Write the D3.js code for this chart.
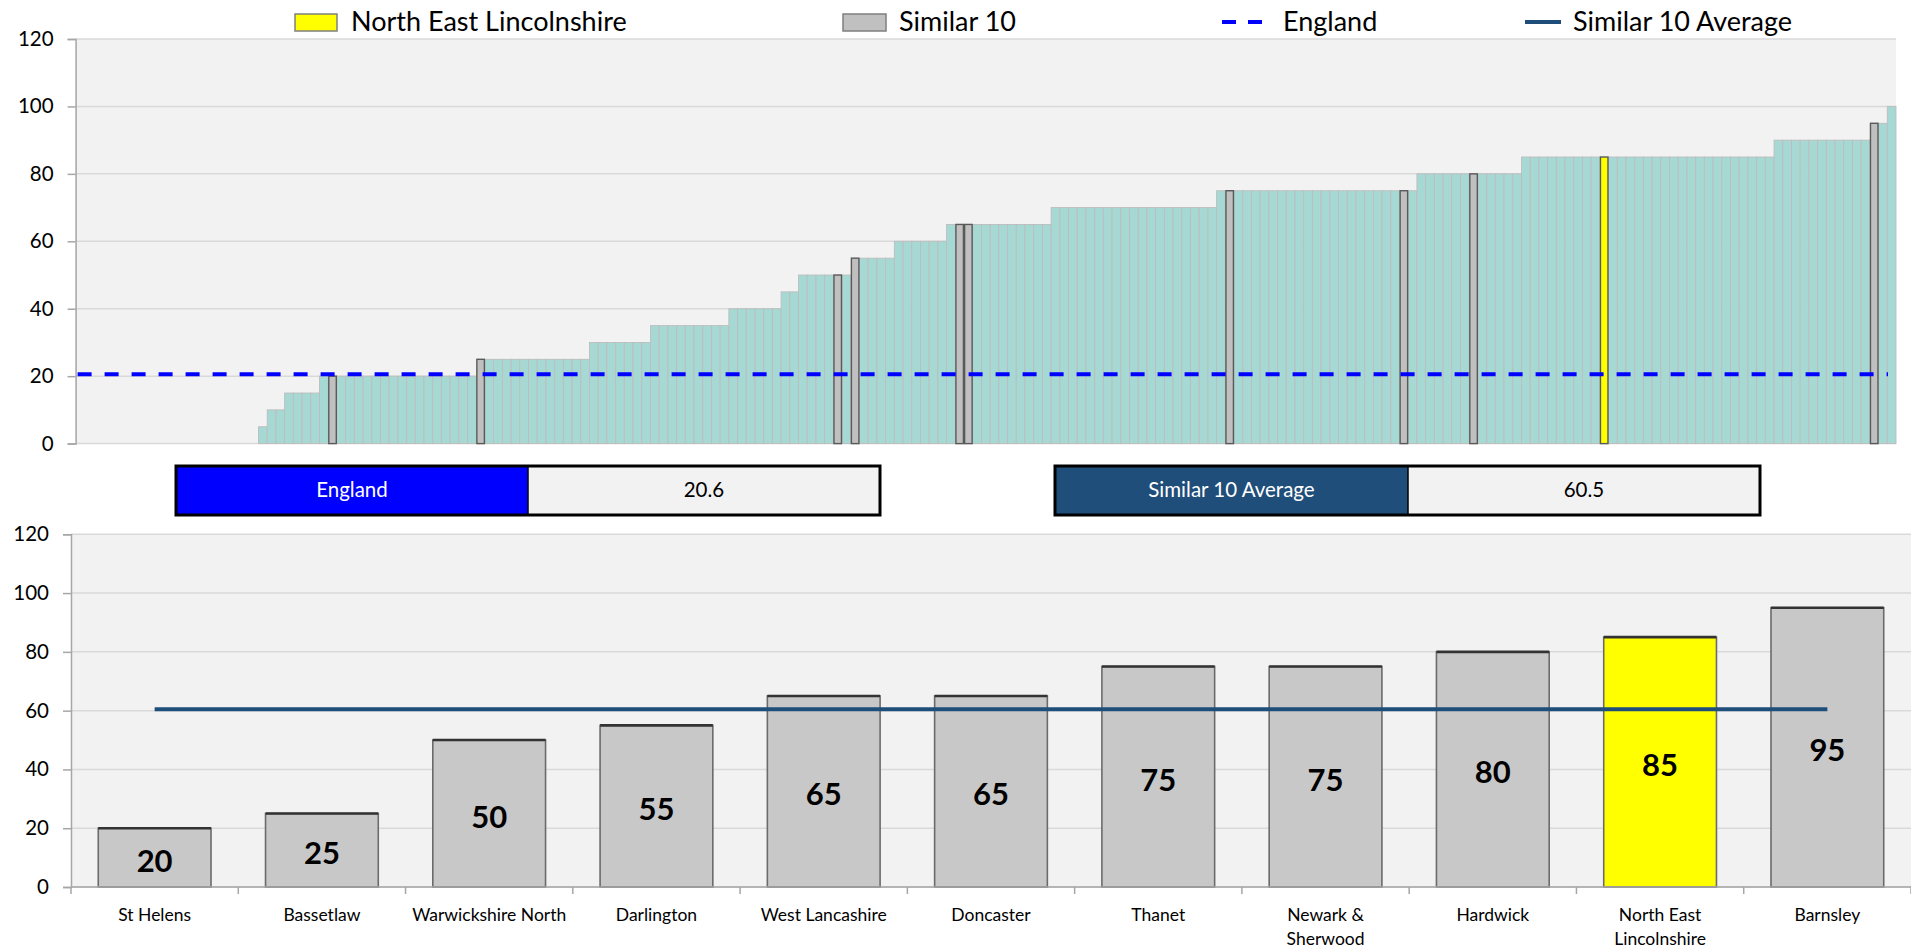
<!DOCTYPE html>
<html lang="en">
<head>
    <meta charset="UTF-8">
    <title>Similar 10 comparison</title>
    <style>
        body,html{
            margin:0;
            padding:0;
            border:0;
            background:#fff;
            font-family:Lato, "Open Sans", sans-serif;
        }
        svg{display:block;}
    </style>
</head>
<body>
    <svg id="svg" width="1911" height="949"></svg>
    <script type="text/javascript" src="https://cdnjs.cloudflare.com/ajax/libs/d3/7.8.5/d3.min.js"></script>
    <script type="text/javascript">
        // all districts, sorted (top chart)
        var districtValues = [
            0,0,0,0,0,0,0,0,0,0,0,0,0,0,0,0,0,0,0,0,0,
            5,10,10,15,15,15,15,
            20,20,20,20,20,20,20,20,20,20,20,20,20,20,20,20,20,20,
            25,25,25,25,25,25,25,25,25,25,25,25,25,
            30,30,30,30,30,30,30,
            35,35,35,35,35,35,35,35,35,
            40,40,40,40,40,40,
            45,45,
            50,50,50,50,50,50,
            55,55,55,55,55,
            60,60,60,60,60,60,
            65,65,65,65,65,65,65,65,65,65,65,65,
            70,70,70,70,70,70,70,70,70,70,70,70,70,70,70,70,70,70,70,
            75,75,75,75,75,75,75,75,75,75,75,75,75,75,75,75,75,75,75,75,75,75,75,
            80,80,80,80,80,80,80,80,80,80,80,80,
            85,85,85,85,85,85,85,85,85,85,85,85,85,85,85,85,85,85,85,85,85,85,85,85,85,85,85,85,85,
            90,90,90,90,90,90,90,90,90,90,90,
            95,95,100
        ];

        // the comparator group (bottom chart) and where each sits in the ranking above
        var similarNames = ["St Helens","Bassetlaw","Warwickshire North","Darlington","West Lancashire",
            "Doncaster","Thanet","Newark & Sherwood","Hardwick","North East Lincolnshire","Barnsley"];
        var similarLabels = [["St Helens"],["Bassetlaw"],["Warwickshire North"],["Darlington"],["West Lancashire"],
            ["Doncaster"],["Thanet"],["Newark &","Sherwood"],["Hardwick"],["North East","Lincolnshire"],["Barnsley"]];
        var similarValues = [20,25,50,55,65,65,75,75,80,85,95];
        var similarRank = [29,46,87,89,101,102,132,152,160,175,206];

        var targetName = "North East Lincolnshire";
        var englandValue = 20.6;
        var similarAverage = 60.5;
        var yTicks = [0,20,40,60,80,100,120];

        var TEAL = "#a6d9d4", GREY = "#c0c0c0", YELLOW = "#ffff00", NAVY = "#1f4e7a", BLUE = "#0000ff";

        var svg = d3.select("#svg");

        //---------- legend
        var legend = svg.append("g").attr("class","legend").style("font-size","27px");
        legend.append("rect").attr("x",295).attr("y",14).attr("width",42).attr("height",17)
            .attr("fill",YELLOW).attr("stroke","#7f7f7f").attr("stroke-width",1.5);
        legend.append("text").attr("x",351).attr("y",31).text(targetName);
        legend.append("rect").attr("x",843).attr("y",14).attr("width",43).attr("height",17)
            .attr("fill",GREY).attr("stroke","#7f7f7f").attr("stroke-width",1.5);
        legend.append("text").attr("x",899).attr("y",31).text("Similar 10");
        legend.append("line").attr("x1",1222).attr("x2",1266).attr("y1",22).attr("y2",22)
            .attr("stroke",BLUE).attr("stroke-width",4).attr("stroke-dasharray","14,12");
        legend.append("text").attr("x",1283).attr("y",31).text("England");
        legend.append("line").attr("x1",1525).attr("x2",1561).attr("y1",22).attr("y2",22)
            .attr("stroke",NAVY).attr("stroke-width",4);
        legend.append("text").attr("x",1573).attr("y",31).text("Similar 10 Average");

        //---------- top chart (note: "top" is a reserved window global, so topArea)
        var topArea = {left:75.6, right:1896, top:39, bottom:443.6};
        var xTop = d3.scaleBand().domain(d3.range(districtValues.length)).range([topArea.left, topArea.right]).padding(0);
        var yTop = d3.scaleLinear().domain([0,120]).range([topArea.bottom, topArea.top]);

        var gTop = svg.append("g");
        gTop.append("rect").attr("x",topArea.left).attr("y",topArea.top)
            .attr("width",topArea.right-topArea.left).attr("height",topArea.bottom-topArea.top).attr("fill","#f2f2f2");
        gTop.selectAll("line.grid").data(yTicks).enter().append("line").attr("class","grid")
            .attr("x1",topArea.left).attr("x2",topArea.right)
            .attr("y1",function(d){return yTop(d);}).attr("y2",function(d){return yTop(d);})
            .attr("stroke","#d9d9d9").attr("stroke-width",1.5);

        var rankIndex = {};
        similarRank.forEach(function(r,i){ rankIndex[r] = i; });

        var bars = districtValues.map(function(v,i){ return {i:i, v:v, s:rankIndex[i]}; });

        gTop.selectAll("rect.dist").data(bars.filter(function(d){return d.v>0 && d.s===undefined;}))
            .enter().append("rect").attr("class","dist")
            .attr("x",function(d){return xTop(d.i);})
            .attr("y",function(d){return yTop(d.v);})
            .attr("width",xTop.bandwidth())
            .attr("height",function(d){return yTop(0)-yTop(d.v);})
            .attr("fill",TEAL).attr("stroke","#bdbdbd").attr("stroke-width",0.9);

        gTop.selectAll("rect.sim").data(bars.filter(function(d){return d.s!==undefined;}))
            .enter().append("rect").attr("class","sim")
            .attr("x",function(d){return xTop(d.i)+0.6;})
            .attr("y",function(d){return yTop(d.v);})
            .attr("width",xTop.bandwidth()-1.2)
            .attr("height",function(d){return yTop(0)-yTop(d.v);})
            .attr("fill",function(d){return similarNames[d.s]===targetName ? YELLOW : GREY;})
            .attr("stroke","#595959").attr("stroke-width",1.4);

        gTop.append("line").attr("x1",topArea.left+2).attr("x2",topArea.right-8)
            .attr("y1",yTop(englandValue)).attr("y2",yTop(englandValue))
            .attr("stroke",BLUE).attr("stroke-width",4).attr("stroke-dasharray","14,13");

        var axTop = gTop.append("g").attr("transform","translate("+topArea.left+",0)")
            .call(d3.axisLeft(yTop).tickValues(yTicks).tickSize(8).tickPadding(14));
        axTop.select(".domain").attr("stroke","#a6a6a6").attr("stroke-width",1.5);
        axTop.selectAll(".tick line").attr("stroke","#a6a6a6").attr("stroke-width",1.5);
        axTop.selectAll("text").style("font-size","20.5px").style("font-family","Lato").attr("fill","#000");

        //---------- value boxes
        function valueBox(x0, x1, x2, fill, label, value){
            var g = svg.append("g").style("font-size","20.5px");
            g.append("rect").attr("x",x0).attr("y",466).attr("width",x1-x0).attr("height",49).attr("fill",fill);
            g.append("rect").attr("x",x1).attr("y",466).attr("width",x2-x1).attr("height",49).attr("fill","#f2f2f2");
            g.append("rect").attr("x",x0).attr("y",466).attr("width",x2-x0).attr("height",49)
                .attr("fill","none").attr("stroke","#000").attr("stroke-width",3);
            g.append("line").attr("x1",x1).attr("x2",x1).attr("y1",466).attr("y2",515).attr("stroke","#000").attr("stroke-width",1.5);
            g.append("text").attr("x",(x0+x1)/2).attr("y",497).attr("text-anchor","middle").attr("fill","#fff").text(label);
            g.append("text").attr("x",(x1+x2)/2).attr("y",497).attr("text-anchor","middle").attr("fill","#000").text(value);
        }
        valueBox(176, 528, 880, BLUE, "England", englandValue.toFixed(1));
        valueBox(1055, 1408, 1760, NAVY, "Similar 10 Average", similarAverage.toFixed(1));

        //---------- bottom chart
        var botArea = {left:71, right:1911, top:534.3, bottom:887};
        var xBot = d3.scaleBand().domain(similarNames).range([botArea.left, botArea.right]).paddingInner(0.326).paddingOuter(0.163);
        var yBot = d3.scaleLinear().domain([0,120]).range([botArea.bottom, botArea.top]);
        var step = xBot.step();

        var gBot = svg.append("g");
        gBot.append("rect").attr("x",botArea.left).attr("y",botArea.top)
            .attr("width",botArea.right-botArea.left).attr("height",botArea.bottom-botArea.top).attr("fill","#f2f2f2");
        gBot.selectAll("line.grid").data(yTicks).enter().append("line").attr("class","grid")
            .attr("x1",botArea.left).attr("x2",botArea.right)
            .attr("y1",function(d){return yBot(d);}).attr("y2",function(d){return yBot(d);})
            .attr("stroke","#d9d9d9").attr("stroke-width",1.5);

        var sim = similarNames.map(function(n,i){ return {name:n, v:similarValues[i], lab:similarLabels[i]}; });

        gBot.selectAll("rect.bar").data(sim).enter().append("rect").attr("class","bar")
            .attr("x",function(d){return xBot(d.name);})
            .attr("y",function(d){return yBot(d.v);})
            .attr("width",xBot.bandwidth())
            .attr("height",function(d){return yBot(0)-yBot(d.v);})
            .attr("fill",function(d){return d.name===targetName ? YELLOW : "#c8c8c8";})
            .attr("stroke","#6b6b6b").attr("stroke-width",1.6);
        // darker top edge
        gBot.selectAll("line.cap").data(sim).enter().append("line").attr("class","cap")
            .attr("x1",function(d){return xBot(d.name);})
            .attr("x2",function(d){return xBot(d.name)+xBot.bandwidth();})
            .attr("y1",function(d){return yBot(d.v);}).attr("y2",function(d){return yBot(d.v);})
            .attr("stroke","#333").attr("stroke-width",2.6);

        gBot.append("line")
            .attr("x1",xBot(similarNames[0])+xBot.bandwidth()/2)
            .attr("x2",xBot(similarNames[similarNames.length-1])+xBot.bandwidth()/2)
            .attr("y1",yBot(similarAverage)).attr("y2",yBot(similarAverage))
            .attr("stroke",NAVY).attr("stroke-width",4);

        gBot.selectAll("text.val").data(sim).enter().append("text").attr("class","val")
            .attr("x",function(d){return xBot(d.name)+xBot.bandwidth()/2;})
            .attr("y",function(d){return (yBot(d.v)+yBot(0))/2+2;})
            .attr("text-anchor","middle").attr("dominant-baseline","central")
            .style("font-size","31px").style("font-weight","bold").text(function(d){return d.v;});

        var axBot = gBot.append("g").attr("transform","translate("+botArea.left+",0)")
            .call(d3.axisLeft(yBot).tickValues(yTicks).tickSize(8).tickPadding(14));
        axBot.select(".domain").attr("stroke","#a6a6a6").attr("stroke-width",1.5);
        axBot.selectAll(".tick line").attr("stroke","#a6a6a6").attr("stroke-width",1.5);
        axBot.selectAll("text").style("font-size","20.5px").style("font-family","Lato").attr("fill","#000");

        gBot.append("line").attr("x1",botArea.left).attr("x2",botArea.right).attr("y1",botArea.bottom).attr("y2",botArea.bottom)
            .attr("stroke","#a6a6a6").attr("stroke-width",1.5);
        gBot.selectAll("line.xt").data(d3.range(similarNames.length+1)).enter().append("line").attr("class","xt")
            .attr("x1",function(i){return botArea.left+i*step;}).attr("x2",function(i){return botArea.left+i*step;})
            .attr("y1",botArea.bottom).attr("y2",botArea.bottom+7)
            .attr("stroke","#a6a6a6").attr("stroke-width",1.5);

        var xl = gBot.selectAll("text.xl").data(sim).enter().append("text").attr("class","xl")
            .attr("text-anchor","middle").style("font-size","17.5px")
            .attr("transform",function(d){return "translate("+(xBot(d.name)+xBot.bandwidth()/2)+",921)";});
        xl.selectAll("tspan").data(function(d){return d.lab;}).enter().append("tspan")
            .attr("x",0).attr("dy",function(d,i){return i===0 ? 0 : 24;}).text(function(d){return d;});
    </script>
</body>
</html>
